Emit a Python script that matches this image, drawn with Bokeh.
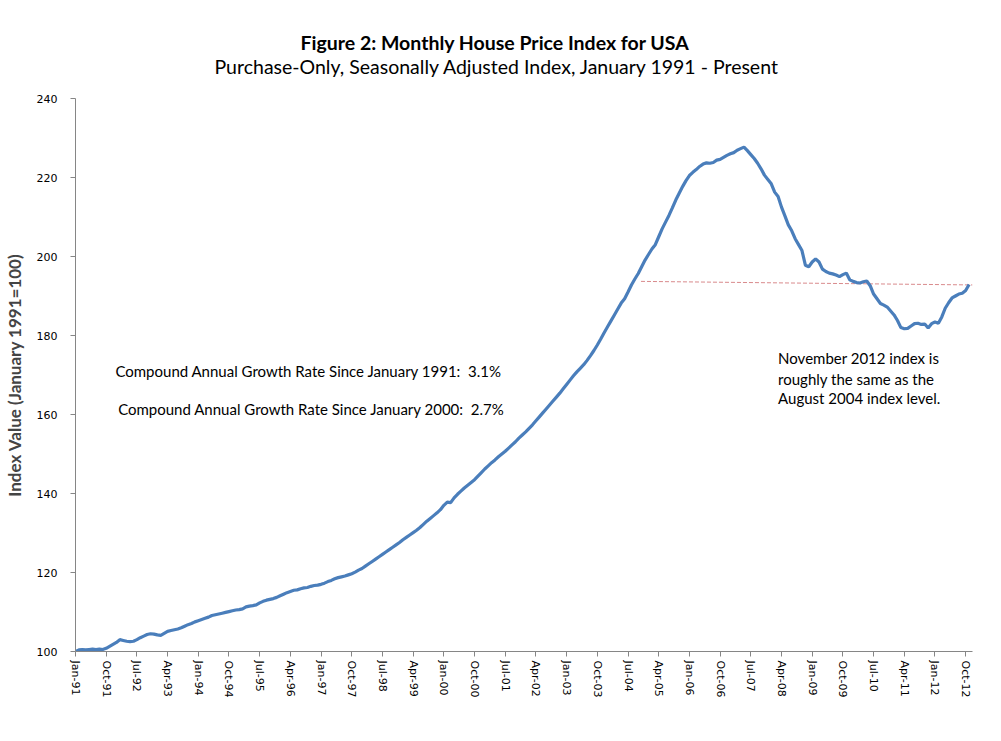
from bokeh.plotting import figure
from bokeh.models import Range1d, FixedTicker, Label, Title
from bokeh.embed import file_html
from bokeh.resources import INLINE

# Monthly HPI, Jan 1991 .. Nov 2012
hpi_1991 = [100.0, 100.4, 100.5, 100.4, 100.5, 100.6, 100.5, 100.6, 100.5, 100.8, 101.3, 101.8]
hpi_1992 = [102.3, 103.0, 102.8, 102.6, 102.5, 102.6, 103.0, 103.5, 103.9, 104.3, 104.5, 104.4]
hpi_1993 = [104.2, 104.1, 104.6, 105.1, 105.3, 105.5, 105.7, 106.0, 106.4, 106.8, 107.1, 107.5]
hpi_1994 = [107.8, 108.1, 108.4, 108.7, 109.1, 109.3, 109.5, 109.7, 109.9, 110.1, 110.3, 110.5]
hpi_1995 = [110.6, 110.8, 111.3, 111.5, 111.6, 111.8, 112.3, 112.7, 113.0, 113.2, 113.4, 113.7]
hpi_1996 = [114.1, 114.5, 114.9, 115.2, 115.5, 115.6, 115.9, 116.1, 116.2, 116.5, 116.7, 116.8]
hpi_1997 = [117.0, 117.3, 117.7, 118.0, 118.4, 118.7, 118.9, 119.1, 119.4, 119.7, 120.1, 120.6]
hpi_1998 = [121.0, 121.6, 122.2, 122.8, 123.4, 124.0, 124.6, 125.2, 125.8, 126.4, 127.0, 127.6]
hpi_1999 = [128.3, 128.9, 129.5, 130.1, 130.7, 131.4, 132.2, 133.0, 133.7, 134.4, 135.1, 135.9]
hpi_2000 = [137.0, 137.8, 137.7, 138.9, 139.8, 140.6, 141.4, 142.1, 142.8, 143.5, 144.4, 145.3]
hpi_2001 = [146.2, 147.0, 147.8, 148.5, 149.3, 150.0, 150.7, 151.5, 152.3, 153.1, 154.0, 154.8]
hpi_2002 = [155.6, 156.5, 157.4, 158.4, 159.4, 160.4, 161.4, 162.4, 163.4, 164.4, 165.4, 166.5]
hpi_2003 = [167.6, 168.7, 169.8, 170.8, 171.7, 172.6, 173.7, 174.9, 176.2, 177.6, 179.1, 180.7]
hpi_2004 = [182.2, 183.7, 185.2, 186.7, 188.2, 189.3, 191.0, 192.8, 194.3, 195.7, 197.4, 199.1]
hpi_2005 = [200.5, 201.9, 203.0, 205.0, 207.0, 208.7, 210.4, 212.3, 214.3, 216.0, 217.7, 219.2]
hpi_2006 = [220.5, 221.3, 222.0, 222.8, 223.4, 223.7, 223.6, 223.8, 224.4, 224.6, 225.1, 225.6]
hpi_2007 = [226.0, 226.3, 226.9, 227.3, 227.7, 226.8, 225.8, 224.8, 223.6, 222.2, 220.6, 219.5]
hpi_2008 = [218.4, 216.3, 215.2, 212.5, 210.3, 208.0, 206.5, 204.5, 203.0, 201.5, 197.8, 197.4]
hpi_2009 = [198.6, 199.4, 198.6, 196.8, 196.2, 195.8, 195.6, 195.3, 194.9, 195.4, 195.8, 194.1]
hpi_2010 = [193.7, 193.4, 193.3, 193.6, 193.8, 192.6, 190.5, 189.3, 188.1, 187.7, 187.2, 186.2]
hpi_2011 = [185.2, 183.8, 182.0, 181.7, 181.8, 182.4, 183.0, 183.1, 182.8, 182.9, 181.9, 183.0]
hpi_2012 = [183.4, 183.1, 184.7, 186.9, 188.3, 189.5, 190.0, 190.5, 190.7, 191.4, 192.9]

hpi = (hpi_1991 + hpi_1992 + hpi_1993 + hpi_1994 + hpi_1995 + hpi_1996 + hpi_1997 +
       hpi_1998 + hpi_1999 + hpi_2000 + hpi_2001 + hpi_2002 + hpi_2003 + hpi_2004 +
       hpi_2005 + hpi_2006 + hpi_2007 + hpi_2008 + hpi_2009 + hpi_2010 + hpi_2011 + hpi_2012)
months = list(range(len(hpi)))

tick_positions = [0, 9, 18, 27, 36, 45, 54, 63, 72, 81, 90, 99, 108, 117, 126, 135,
                  144, 153, 162, 171, 180, 189, 198, 207, 216, 225, 234, 243, 252, 261]
tick_labels = ["Jan-91", "Oct-91", "Jul-92", "Apr-93", "Jan-94", "Oct-94", "Jul-95", "Apr-96",
               "Jan-97", "Oct-97", "Jul-98", "Apr-99", "Jan-00", "Oct-00", "Jul-01", "Apr-02",
               "Jan-03", "Oct-03", "Jul-04", "Apr-05", "Jan-06", "Oct-06", "Jul-07", "Apr-08",
               "Jan-09", "Oct-09", "Jul-10", "Apr-11", "Jan-12", "Oct-12"]
y_ticks = [100, 120, 140, 160, 180, 200, 220, 240]

ref_x = [165.8, 263]
ref_y = [193.7, 192.8]

FONT = "Lato"

p = figure(width=984, height=724, x_range=Range1d(0, 263), y_range=Range1d(100, 240),
           output_backend="svg", toolbar_location=None,
           min_border_left=71, min_border_right=12, min_border_top=98, min_border_bottom=73)

p.add_layout(Title(text="Purchase-Only, Seasonally Adjusted Index, January 1991 - Present",
                   align="left", text_font=FONT, text_font_size="19.5px", text_color="black",
                   text_font_style="normal", vertical_align="top", standoff=38,
                   offset=139), "above")
p.add_layout(Title(text="Figure 2: Monthly House Price Index for USA",
                   align="left", text_font=FONT, text_font_size="19.5px", text_color="black",
                   text_font_style="bold", vertical_align="bottom", standoff=-36,
                   offset=225), "above")

p.outline_line_color = None
p.grid.visible = False
p.background_fill_color = "white"
p.border_fill_color = "white"

p.line(ref_x, ref_y, line_color="#d98a8c", line_width=1, line_dash="4 2")
p.line(months, hpi, line_color="#4a7ebb", line_width=3.2)

xa = p.xaxis[0]
xa.ticker = FixedTicker(ticks=tick_positions)
xa.major_label_overrides = {t: l for t, l in zip(tick_positions, tick_labels)}
xa.major_label_orientation = "vertical"
xa.major_label_text_font = "DejaVu Sans"
xa.major_label_text_font_size = "11px"
xa.major_label_text_color = "black"
xa.axis_line_color = "#868686"
xa.major_tick_line_color = "#868686"
xa.major_tick_out = 5
xa.major_tick_in = 0
xa.minor_tick_line_color = None
xa.major_label_standoff = 4

ya = p.yaxis[0]
ya.ticker = FixedTicker(ticks=y_ticks)
ya.major_label_text_font = "DejaVu Sans"
ya.major_label_text_font_size = "11px"
ya.major_label_text_color = "black"
ya.axis_line_color = "#868686"
ya.major_tick_line_color = "#868686"
ya.major_tick_out = 5
ya.major_tick_in = 0
ya.minor_tick_line_color = None
ya.major_label_standoff = 13
ya.axis_label = "Index Value (January 1991=100)"
ya.axis_label_text_font = FONT
ya.axis_label_text_font_size = "17px"
ya.axis_label_text_font_style = "bold"
ya.axis_label_standoff = 9

for txt, x, y in [("Compound Annual Growth Rate Since January 1991:\u00a0 3.1%", 11.7, 171.1),
                  ("Compound Annual Growth Rate Since January 2000:\u00a0 2.7%", 12.5, 161.3)]:
    p.add_layout(Label(x=x, y=y, text=txt, text_font=FONT, text_font_size="15px",
                       text_baseline="middle", text_align="left", text_color="black"))

for txt, y in [("November 2012 index is", 174.2),
               ("roughly the same as the", 169.1),
               ("August 2004 index level.", 164.2)]:
    p.add_layout(Label(x=206, y=y, text=txt, text_font=FONT, text_font_size="15px",
                       text_baseline="middle", text_align="left", text_color="black"))

open("out.html", "w").write(file_html(p, INLINE))
